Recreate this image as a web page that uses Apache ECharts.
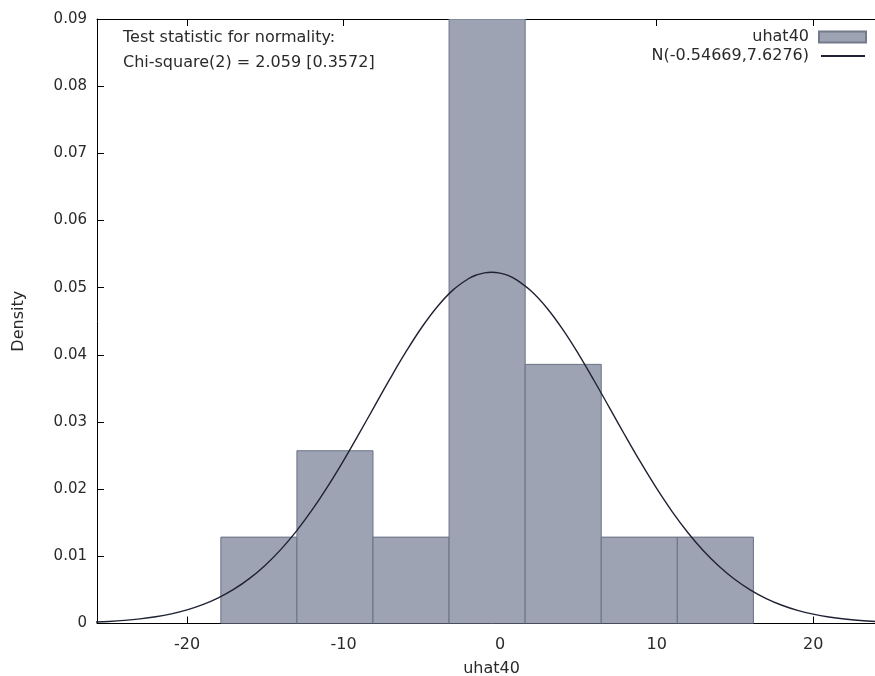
<!DOCTYPE html>
<html>
<head>
<meta charset="utf-8">
<script src="https://cdn.jsdelivr.net/npm/echarts@6/dist/echarts.min.js"></script>
<style>
html,body{margin:0;padding:0;background:#fff;overflow:hidden;}
#chart{width:900px;height:676px;}
</style>
</head>
<body>
<div id="chart"></div>
<script>
// ---- data ----
const binEdges = [-17.84, -12.98, -8.12, -3.26, 1.60, 6.46, 11.32, 16.18];
const densities = [0.01286, 0.02572, 0.01286, 0.09002, 0.03858, 0.01286, 0.01286];
const curveX = [-26, -25, -24, -23, -22, -21, -20, -19, -18, -17, -16, -15, -14, -13, -12, -11, -10, -9, -8, -7, -6, -5, -4, -3, -2, -1.5, -1, -0.55, 0, 0.5, 1, 2, 3, 4, 5, 6, 7, 8, 9, 10, 11, 12, 13, 14, 15, 16, 17, 18, 19, 20, 21, 22, 23, 24, 25, 26];
const curveY = [0.000200, 0.000307, 0.000463, 0.000687, 0.001002, 0.001436, 0.002024, 0.002803, 0.003816, 0.005107, 0.006717, 0.008686, 0.01104, 0.01379, 0.01694, 0.02045, 0.02426, 0.02830, 0.03245, 0.03657, 0.04050, 0.04411, 0.04720, 0.04967, 0.05136, 0.05190, 0.05221, 0.05230, 0.05217, 0.05183, 0.05124, 0.04946, 0.04694, 0.04379, 0.04015, 0.03618, 0.03206, 0.02792, 0.02390, 0.02011, 0.01663, 0.01352, 0.01080, 0.008487, 0.006553, 0.004973, 0.003710, 0.002720, 0.001961, 0.001389, 0.000968, 0.000662, 0.000446, 0.000295, 0.000192, 0.000122];
const xTicks = [-20, -10, 0, 10, 20];
const histName = 'uhat40';
const curveName = 'N(-0.54669,7.6276)';
const noteLines = ['Test statistic for normality:', 'Chi-square(2) = 2.059 [0.3572]'];

const FONT = 'DejaVu Sans';
const TXT = '#2a2a2a';

const histData = densities.map((d, i) => [binEdges[i], binEdges[i + 1], d]);
const curveData = curveX.map((x, i) => [x, curveY[i]]);

const chart = echarts.init(document.getElementById('chart'));
chart.setOption({
  animation: false,
  backgroundColor: '#ffffff',
  grid: { left: 97, top: 19, width: 789, height: 604.5, containLabel: false, outerBoundsMode: 'none' },
  xAxis: [{
    type: 'value', min: -25.75, max: 24.65, position: 'bottom',
    name: 'uhat40', nameLocation: 'middle', nameGap: 37,
    nameTextStyle: { fontFamily: FONT, fontSize: 16, color: TXT },
    axisLine: { show: true, onZero: false, lineStyle: { color: '#000', width: 1 } },
    axisTick: { show: true, inside: true, length: 7, customValues: xTicks, lineStyle: { color: '#000' } },
    axisLabel: { customValues: xTicks, margin: 13, fontFamily: FONT, fontSize: 16, color: TXT },
    splitLine: { show: false }
  }, {
    type: 'value', min: -25.75, max: 24.65, position: 'top',
    axisLine: { show: true, onZero: false, lineStyle: { color: '#000', width: 1 } },
    axisTick: { show: true, inside: true, length: 7, customValues: xTicks, lineStyle: { color: '#000' } },
    axisLabel: { show: false },
    splitLine: { show: false }
  }],
  yAxis: [{
    type: 'value', min: 0, max: 0.09, interval: 0.01, position: 'left',
    name: 'Density', nameLocation: 'middle', nameGap: 70, nameRotate: 90,
    nameTextStyle: { fontFamily: FONT, fontSize: 16, color: TXT },
    axisLine: { show: true, onZero: false, lineStyle: { color: '#000', width: 1 } },
    axisTick: { show: true, inside: true, length: 7, lineStyle: { color: '#000' } },
    axisLabel: { margin: 10, fontFamily: FONT, fontSize: 15, color: TXT },
    splitLine: { show: false }
  }],
  legend: [{
    orient: 'vertical', right: 28, top: 24, align: 'right',
    itemWidth: 47, itemHeight: 11, selectedMode: false,
    textStyle: { fontFamily: FONT, fontSize: 16, color: TXT, padding: [0, 5, 0, 0] },
    data: [{ name: histName, icon: 'rect' }]
  }, {
    orient: 'vertical', right: 29, top: 43, align: 'right',
    itemWidth: 44, itemHeight: 11, selectedMode: false,
    itemStyle: { opacity: 0 },
    textStyle: { fontFamily: FONT, fontSize: 16, color: TXT, padding: [0, 7, 0, 0] },
    data: [{ name: curveName }]
  }],
  graphic: [{
    type: 'text', left: 123, top: 30,
    style: { text: noteLines[0], font: '16px "DejaVu Sans"', fill: TXT }
  }, {
    type: 'text', left: 123, top: 55,
    style: { text: noteLines[1], font: '16px "DejaVu Sans"', fill: TXT }
  }],
  series: [{
    name: histName,
    type: 'custom',
    xAxisIndex: 0, yAxisIndex: 0,
    clip: true,
    itemStyle: { color: '#9da3b3', borderColor: '#737a8c', borderWidth: 1 },
    encode: { x: [0, 1], y: 2 },
    data: histData,
    renderItem: function (params, api) {
      const p0 = api.coord([api.value(0), api.value(2)]);
      const p1 = api.coord([api.value(1), 0]);
      const rect = echarts.graphic.clipRectByRect(
        { x: p0[0], y: p0[1], width: p1[0] - p0[0], height: p1[1] - p0[1] },
        { x: params.coordSys.x, y: params.coordSys.y, width: params.coordSys.width, height: params.coordSys.height }
      );
      return rect && {
        type: 'rect', shape: rect,
        style: { fill: '#9da3b3', stroke: '#6b7285', lineWidth: 1 }
      };
    },
    z: 2
  }, {
    name: curveName,
    type: 'line',
    xAxisIndex: 0, yAxisIndex: 0,
    data: curveData,
    smooth: 0.4,
    symbol: 'none',
    clip: true,
    lineStyle: { color: '#1f2233', width: 1.4 },
    itemStyle: { color: '#1f2233' },
    z: 3
  }]
});
</script>
</body>
</html>
